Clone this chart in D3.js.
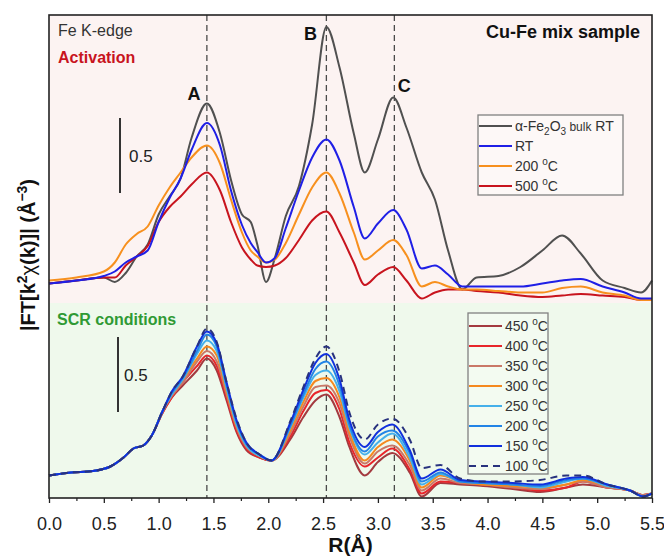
<!DOCTYPE html>
<html>
<head>
<meta charset="utf-8">
<script src="https://cdn.jsdelivr.net/npm/d3@7"></script>
<style>
body { margin: 0; background: #fff; }
svg { font-family: "Liberation Sans", Arial, sans-serif; }
</style>
</head>
<body>
<svg id="chart" width="664" height="560"></svg>
<script>
// ---- data ----
// Activation (top panel), R in Angstrom
const rTop = [0, 0.25, 0.5, 0.6, 0.7, 0.8, 0.9, 1.0, 1.1, 1.2, 1.3, 1.44, 1.56, 1.66, 1.76, 1.84, 1.9, 1.98, 2.06, 2.16,
  2.28, 2.4, 2.53, 2.65, 2.78, 2.88, 3.0, 3.14, 3.26, 3.4, 3.52, 3.64, 3.77, 3.9, 4.1, 4.3, 4.5, 4.68, 4.85, 5.05,
  5.25, 5.4, 5.5];
const topFe2O3 = [0.13, 0.15, 0.17, 0.14, 0.2, 0.31, 0.39, 0.59, 0.71, 0.83, 1.1, 1.33, 1.13, 0.82, 0.59, 0.54, 0.39, 0.14, 0.3, 0.58,
  0.78, 1.19, 1.84, 1.57, 1.13, 0.87, 1.09, 1.37, 1.17, 0.87, 0.69, 0.35, 0.09, 0.17, 0.18, 0.24, 0.35, 0.45, 0.33, 0.15,
  0.1, 0.07, 0.15];
const topRT = [0.13, 0.15, 0.18, 0.21, 0.27, 0.31, 0.35, 0.54, 0.7, 0.83, 1.02, 1.2, 1.05, 0.75, 0.52, 0.4, 0.34, 0.27, 0.3, 0.5,
  0.75, 0.97, 1.09, 0.95, 0.64, 0.43, 0.53, 0.62, 0.49, 0.23, 0.25, 0.19, 0.11, 0.11, 0.11, 0.11, 0.13, 0.15, 0.16, 0.11,
  0.07, 0.03, 0.03];
const top200 = [0.15, 0.17, 0.21, 0.27, 0.39, 0.46, 0.51, 0.65, 0.77, 0.87, 0.97, 1.05, 0.93, 0.69, 0.47, 0.35, 0.31, 0.27, 0.29, 0.4,
  0.59, 0.77, 0.87, 0.73, 0.47, 0.29, 0.35, 0.42, 0.32, 0.11, 0.14, 0.11, 0.09, 0.09, 0.08, 0.07, 0.07, 0.1, 0.11, 0.07,
  0.05, 0.02, 0.02];
const top500 = [0.13, 0.15, 0.17, 0.17, 0.25, 0.31, 0.38, 0.54, 0.64, 0.71, 0.79, 0.87, 0.75, 0.54, 0.37, 0.29, 0.25, 0.24, 0.25, 0.3,
  0.42, 0.55, 0.61, 0.47, 0.27, 0.12, 0.19, 0.24, 0.15, 0.03, 0.07, 0.09, 0.09, 0.08, 0.07, 0.05, 0.04, 0.05, 0.06, 0.05,
  0.04, 0.02, 0.02];
const topLabels = ['Fe2O3', 'RT', '200', '500'];
const topColors = ['#505050', '#1f1fe6', '#f7901e', '#c8141e'];

// SCR conditions (bottom panel)
const rBot = [0, 0.2, 0.4, 0.56, 0.68, 0.77, 0.86, 0.94, 1.03, 1.12, 1.22, 1.35, 1.44, 1.53, 1.62, 1.71, 1.8, 1.92, 2.03,
  2.2, 2.32, 2.43, 2.53, 2.65, 2.74, 2.88, 3.0, 3.13, 3.29, 3.4, 3.57, 3.75, 3.96, 4.23, 4.48, 4.72, 4.87, 5.09, 5.3,
  5.42, 5.5];
const scr100 = [0.15, 0.17, 0.18, 0.21, 0.27, 0.33, 0.35, 0.42, 0.57, 0.71, 0.81, 1.01, 1.13, 1.04, 0.77, 0.53, 0.37, 0.29, 0.25,
  0.51, 0.74, 0.93, 1.01, 0.84, 0.57, 0.39, 0.49, 0.53, 0.39, 0.20, 0.22, 0.13, 0.11, 0.11, 0.12, 0.15, 0.15, 0.09, 0.05, 0.01, 0.03];
const scr150 = [0.15, 0.17, 0.18, 0.21, 0.27, 0.33, 0.35, 0.42, 0.57, 0.71, 0.81, 1.01, 1.11, 1.03, 0.77, 0.52, 0.37, 0.29, 0.25,
  0.50, 0.72, 0.90, 0.96, 0.79, 0.52, 0.34, 0.44, 0.49, 0.32, 0.13, 0.19, 0.12, 0.11, 0.10, 0.09, 0.13, 0.14, 0.09, 0.05, 0.01, 0.03];
const scr200 = [0.15, 0.17, 0.18, 0.21, 0.27, 0.33, 0.35, 0.42, 0.57, 0.70, 0.80, 0.98, 1.09, 1.01, 0.75, 0.51, 0.36, 0.29, 0.25,
  0.48, 0.69, 0.86, 0.91, 0.75, 0.49, 0.31, 0.41, 0.45, 0.30, 0.11, 0.17, 0.11, 0.10, 0.09, 0.08, 0.12, 0.13, 0.09, 0.05, 0.01, 0.03];
const scr250 = [0.15, 0.17, 0.18, 0.21, 0.27, 0.33, 0.35, 0.42, 0.57, 0.69, 0.79, 0.96, 1.05, 0.98, 0.73, 0.49, 0.35, 0.28, 0.25,
  0.47, 0.67, 0.82, 0.85, 0.71, 0.47, 0.29, 0.37, 0.43, 0.27, 0.09, 0.16, 0.11, 0.10, 0.09, 0.07, 0.11, 0.13, 0.08, 0.05, 0.01, 0.03];
const scr300 = [0.15, 0.17, 0.18, 0.21, 0.27, 0.33, 0.35, 0.42, 0.57, 0.69, 0.79, 0.93, 1.01, 0.95, 0.71, 0.48, 0.35, 0.28, 0.25,
  0.45, 0.64, 0.78, 0.80, 0.67, 0.44, 0.25, 0.34, 0.39, 0.25, 0.07, 0.15, 0.11, 0.09, 0.08, 0.07, 0.09, 0.12, 0.08, 0.05, 0.01, 0.03];
const scr350 = [0.15, 0.17, 0.18, 0.21, 0.27, 0.33, 0.35, 0.42, 0.57, 0.68, 0.77, 0.91, 0.98, 0.91, 0.69, 0.47, 0.34, 0.28, 0.25,
  0.43, 0.61, 0.74, 0.75, 0.63, 0.41, 0.23, 0.31, 0.35, 0.22, 0.05, 0.13, 0.10, 0.09, 0.07, 0.06, 0.09, 0.11, 0.07, 0.05, 0.02, 0.03];
const scr400 = [0.15, 0.17, 0.18, 0.21, 0.27, 0.33, 0.35, 0.42, 0.56, 0.67, 0.77, 0.88, 0.95, 0.88, 0.67, 0.45, 0.33, 0.27, 0.25,
  0.41, 0.58, 0.70, 0.72, 0.59, 0.37, 0.21, 0.27, 0.33, 0.19, 0.03, 0.11, 0.10, 0.09, 0.07, 0.05, 0.07, 0.11, 0.07, 0.05, 0.02, 0.03];
const scr450 = [0.15, 0.17, 0.18, 0.21, 0.27, 0.33, 0.35, 0.42, 0.56, 0.67, 0.75, 0.85, 0.93, 0.85, 0.65, 0.44, 0.32, 0.27, 0.25,
  0.39, 0.54, 0.65, 0.69, 0.54, 0.34, 0.15, 0.24, 0.30, 0.17, 0.01, 0.10, 0.09, 0.08, 0.06, 0.04, 0.07, 0.09, 0.07, 0.05, 0.02, 0.03];
const scrTemps = ['450', '400', '350', '300', '250', '200', '150', '100'];
const scrColors = ['#a33a3f', '#e8262b', '#c97868', '#f5891f', '#45b0ea', '#2284e6', '#1030dd', '#28327e'];

const xTicks = [0, 0.5, 1.0, 1.5, 2.0, 2.5, 3.0, 3.5, 4.0, 4.5, 5.0, 5.5];
const peakR = [1.44, 2.53, 3.15];
const peakNames = ['A', 'B', 'C'];
const topOffset = 1.3;   // vertical shift of the activation spectra
const scaleBar = 0.5;

// ---- layout ----
var svg = d3.select('#chart');
var margin = {l: 49, t: 15, r: 12, b: 62};
var w = 664 - margin.l - margin.r;
var h = 560 - margin.t - margin.b;

var x = d3.scaleLinear().domain([0, 5.5]).range([0, w]);
var y = d3.scaleLinear().domain([0, 3.22]).range([h, 0]);

var g = svg.append('g').attr('transform', 'translate(' + [margin.l, margin.t] + ')');

// panel backgrounds
g.append('rect').attr('x', 0).attr('y', 0).attr('width', w).attr('height', y(topOffset))
  .attr('fill', '#fcf3f2');
g.append('rect').attr('x', 0).attr('y', y(topOffset)).attr('width', w).attr('height', h - y(topOffset))
  .attr('fill', '#eff9ec');

// dashed guide lines at the peaks
g.selectAll('.guide').data(peakR).enter().append('line')
  .attr('class', 'guide')
  .attr('x1', d => x(d)).attr('x2', d => x(d))
  .attr('y1', 0).attr('y2', h)
  .attr('stroke', '#4a4a4a').attr('stroke-width', 1.3).attr('stroke-dasharray', '6,4');

var line = function(rs, off) {
  return d3.line()
    .x((d, i) => x(rs[i]))
    .y(d => y(d + off))
    .curve(d3.curveMonotoneX);
};

// top spectra
var topSeries = [topFe2O3, top500, top200, topRT];
var topSeriesColors = [topColors[0], topColors[3], topColors[2], topColors[1]];
topSeries.forEach(function(s, i) {
  g.append('path').datum(s)
    .attr('d', line(rTop, topOffset))
    .attr('fill', 'none').attr('stroke', topSeriesColors[i]).attr('stroke-width', 2);
});

// bottom spectra, hottest drawn first
var scrSeries = [scr450, scr400, scr350, scr300, scr250, scr200, scr150, scr100];
scrSeries.forEach(function(s, i) {
  g.append('path').datum(s)
    .attr('d', line(rBot, 0))
    .attr('fill', 'none').attr('stroke', scrColors[i]).attr('stroke-width', 2)
    .attr('stroke-dasharray', scrTemps[i] === '100' ? '7,5' : null);
});

// peak letters
var letterPos = [[-13, 85], [-16, 25], [10, 77]];
peakNames.forEach(function(n, i) {
  g.append('text').attr('x', x(peakR[i]) + letterPos[i][0]).attr('y', letterPos[i][1])
    .attr('text-anchor', 'middle').style('font-size', '18px').style('font-weight', 'bold')
    .attr('fill', '#111').text(n);
});

// scale bars
function addScaleBar(xpos, yTop, labelDx) {
  g.append('line').attr('x1', xpos).attr('x2', xpos)
    .attr('y1', yTop).attr('y2', yTop + (y(0) - y(scaleBar)))
    .attr('stroke', '#333').attr('stroke-width', 2);
  g.append('text').attr('x', xpos + labelDx).attr('y', yTop + (y(0) - y(scaleBar)) / 2 + 6)
    .style('font-size', '17px').attr('fill', '#222').text(scaleBar);
}
addScaleBar(71, 103, 9);
addScaleBar(69, 322, 6);

// panel texts
g.append('text').attr('x', 9).attr('y', 21).style('font-size', '16px').attr('fill', '#333').text('Fe K-edge');
g.append('text').attr('x', 9).attr('y', 48).style('font-size', '16px').style('font-weight', 'bold')
  .attr('fill', '#c8141e').text('Activation');
g.append('text').attr('x', w - 12).attr('y', 23).attr('text-anchor', 'end')
  .style('font-size', '18px').style('font-weight', 'bold').attr('fill', '#111').text('Cu-Fe mix sample');
g.append('text').attr('x', 8).attr('y', y(topOffset) + 22).style('font-size', '16px').style('font-weight', 'bold')
  .attr('fill', '#2f9a34').text('SCR conditions');

// helper for "NNN oC" labels
function tempLabel(sel, t) {
  sel.text(t + ' ');
  sel.append('tspan').attr('dy', -6).style('font-size', '10px').text('o');
  sel.append('tspan').attr('dy', 6).text('C');
}

// top legend
var lgTop = svg.append('g').attr('transform', 'translate(478,115)');
lgTop.append('rect').attr('width', 145).attr('height', 80)
  .attr('fill', '#fdf8f7').attr('stroke', '#808080').attr('stroke-width', 1.3);
topLabels.forEach(function(lab, i) {
  var yy = 11 + i * 20;
  lgTop.append('line').attr('x1', 1).attr('x2', 34).attr('y1', yy).attr('y2', yy)
    .attr('stroke', topColors[i]).attr('stroke-width', 2);
  var t = lgTop.append('text').attr('x', 37).attr('y', yy).attr('dy', '0.35em')
    .style('font-size', '14px').attr('fill', '#333');
  if (lab === 'Fe2O3') {
    t.text('\u03b1-Fe');
    t.append('tspan').attr('dy', 4).style('font-size', '10px').text('2');
    t.append('tspan').attr('dy', -4).text('O');
    t.append('tspan').attr('dy', 4).style('font-size', '10px').text('3');
    t.append('tspan').attr('dy', -4).style('font-size', '12px').text(' bulk');
    t.append('tspan').text(' RT');
  } else if (lab === 'RT') {
    t.text('RT');
  } else {
    tempLabel(t, lab);
  }
});

// bottom legend
var lgBot = svg.append('g').attr('transform', 'translate(468,313)');
lgBot.append('rect').attr('width', 80).attr('height', 161)
  .attr('fill', '#f3fbf1').attr('stroke', '#808080').attr('stroke-width', 1.3);
scrTemps.forEach(function(t, i) {
  var yy = 13 + i * 20;
  lgBot.append('line').attr('x1', 1).attr('x2', 34).attr('y1', yy).attr('y2', yy)
    .attr('stroke', scrColors[i]).attr('stroke-width', 2)
    .attr('stroke-dasharray', t === '100' ? '7,5' : null);
  var tx = lgBot.append('text').attr('x', 37).attr('y', yy).attr('dy', '0.35em')
    .style('font-size', '14px').attr('fill', '#333');
  tempLabel(tx, t);
});

// axes
var xAxis = g.append('g').attr('transform', 'translate(0,' + h + ')')
  .call(d3.axisBottom(x).tickValues(xTicks).tickFormat(d3.format('.1f')).tickSize(5));
xAxis.select('.domain').remove();
xAxis.selectAll('text').attr('y', 19).style('font-size', '18px').attr('fill', '#222').style('font-family', null);
xAxis.selectAll('line').attr('stroke', '#222').attr('stroke-width', 1.3);

var minorTicks = xTicks.slice(0, -1).map(d => d + 0.25);
var xMinor = g.append('g').attr('transform', 'translate(0,' + h + ')')
  .call(d3.axisBottom(x).tickValues(minorTicks).tickFormat('').tickSize(3));
xMinor.select('.domain').remove();
xMinor.selectAll('line').attr('stroke', '#222').attr('stroke-width', 1.2);

// frame
g.append('rect').attr('width', w).attr('height', h)
  .attr('fill', 'none').attr('stroke', '#222').attr('stroke-width', 1.6);

// axis titles
svg.append('text').attr('x', margin.l + x(2.75)).attr('y', 552).attr('text-anchor', 'middle')
  .style('font-size', '21px').style('font-weight', 'bold').attr('fill', '#111').text('R(\u00c5)');

var yl = svg.append('text').attr('transform', 'translate(35,255) rotate(-90)')
  .attr('text-anchor', 'middle').style('font-size', '20px').style('font-weight', 'bold').attr('fill', '#111');
yl.append('tspan').text('|FT[k');
yl.append('tspan').attr('dy', -8).style('font-size', '14px').text('2');
yl.append('tspan').attr('dy', 8).style('font-weight', 'normal').text('\u03c7');
yl.append('tspan').text('(k)]| (\u00c5');
yl.append('tspan').attr('dy', -8).style('font-size', '14px').text('\u22123');
yl.append('tspan').attr('dy', 8).text(')');
</script>
</body>
</html>
